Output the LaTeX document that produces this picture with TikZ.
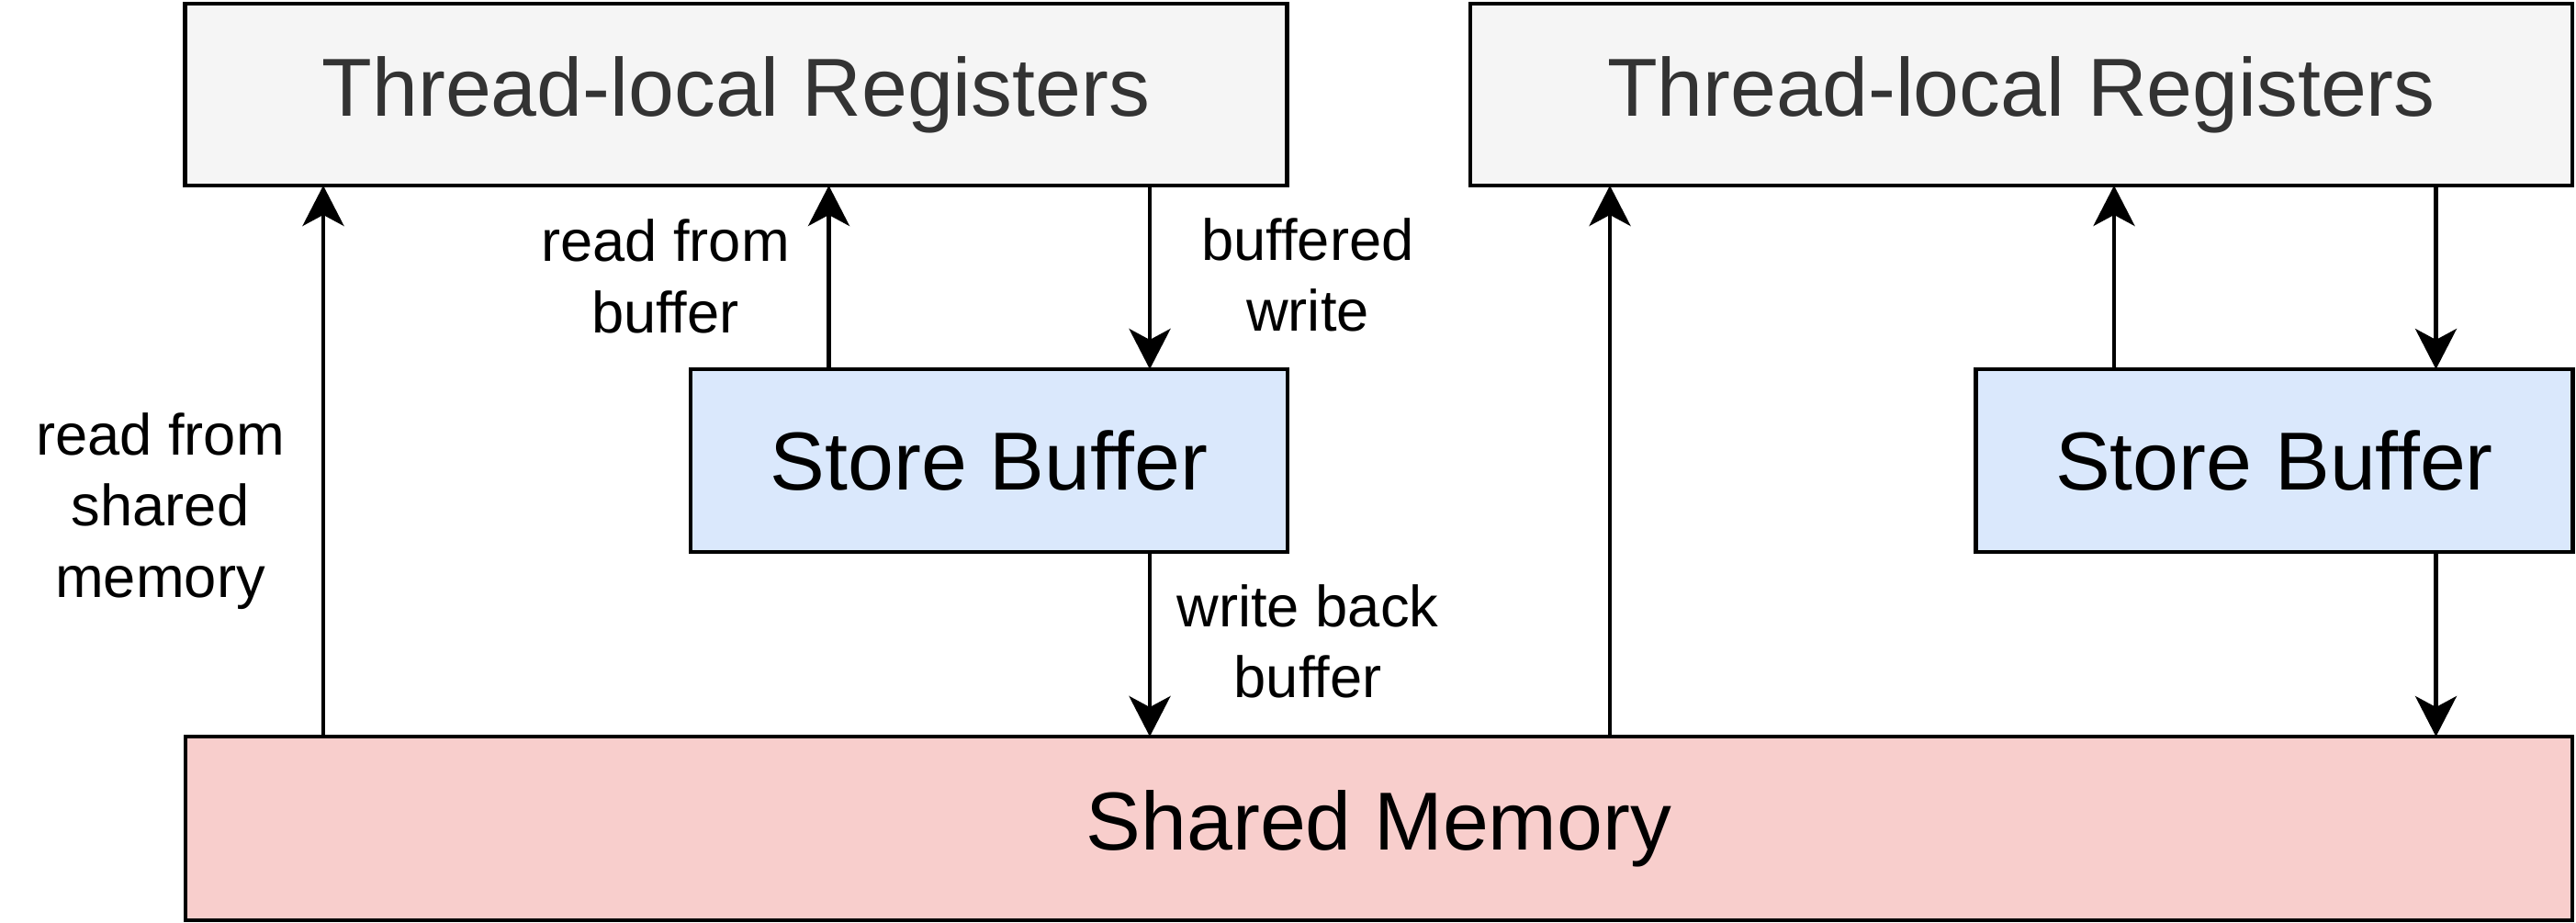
\documentclass[tikz,border=0pt]{standalone}
\usepackage{fontspec}
\setmainfont{Liberation Sans}
\usetikzlibrary{arrows.meta}
\definecolor{regfill}{HTML}{F5F5F5}
\definecolor{regtext}{HTML}{333333}
\definecolor{buffill}{HTML}{DAE8FC}
\definecolor{memfill}{HTML}{F8CECC}
\begin{document}
\begin{tikzpicture}[y=-1cm,
  box/.style={draw, line width=1.4pt, inner sep=0pt, outer sep=0pt, font=\fontsize{25.5}{30}\selectfont},
  regbox/.style={box, fill=regfill, text=regtext, minimum width=12cm, minimum height=1.98cm},
  bufbox/.style={box, fill=buffill, minimum width=6.5cm, minimum height=1.99cm},
  membox/.style={box, fill=memfill, minimum width=25.99cm, minimum height=2cm},
  lbl/.style={align=center, font=\fontsize{18}{22}\selectfont},
  flow/.style={line width=1.3pt, -{Stealth[length=0.44cm, width=0.45cm, inset=0.12cm]}}]
\useasboundingbox (0,0) rectangle (28.05,10.05);

\node[regbox] (regL) at (8.015,1.03) {Thread-local Registers};
\node[regbox] (regR) at (22.01,1.03) {Thread-local Registers};
\node[bufbox] (sbL) at (10.77,5.015) {Store Buffer};
\node[bufbox] (sbR) at (24.765,5.015) {Store Buffer};
\node[membox] (mem) at (15.015,9.02) {Shared Memory};

% arrow columns
\coordinate (colA) at (3.52,0);
\coordinate (colB) at (9.025,0);
\coordinate (colC) at (12.52,0);
\coordinate (colD) at (17.53,0);
\coordinate (colE) at (23.02,0);
\coordinate (colF) at (26.525,0);

\draw[flow] (colA |- mem.north) -- (colA |- regL.south);
\draw[flow] (colB |- sbL.north) -- (colB |- regL.south);
\draw[flow] (colC |- regL.south) -- (colC |- sbL.north);
\draw[flow] (colC |- sbL.south) -- (colC |- mem.north);

\draw[flow] (colD |- mem.north) -- (colD |- regR.south);
\draw[flow] (colE |- sbR.north) -- (colE |- regR.south);
\draw[flow] (colF |- regR.south) -- (colF |- sbR.north);
\draw[flow] (colF |- sbR.south) -- (colF |- mem.north);

\node[lbl] (rdmem) at (1.745,5.565) {read from\\shared\\memory};
\node[lbl] (rdbuf) at (7.245,3.01) {read from\\buffer};
\node[lbl] (bufwr) at (14.24,2.995) {buffered\\write};
\node[lbl] (wrback) at (14.24,6.985) {write back\\buffer};
\end{tikzpicture}
\end{document}
